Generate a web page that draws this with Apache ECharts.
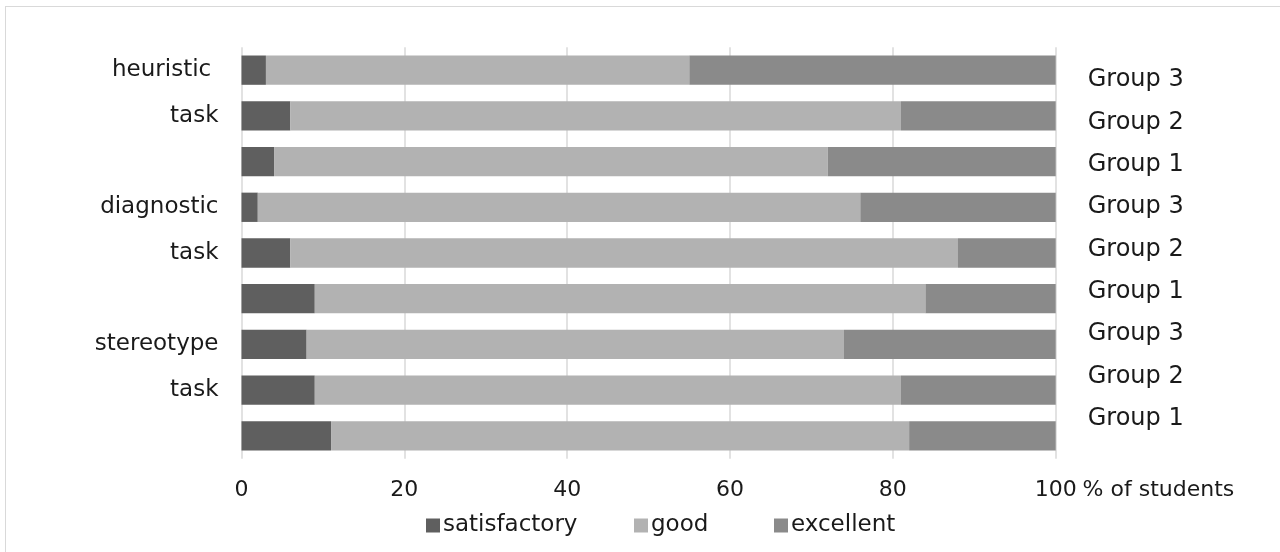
<!DOCTYPE html>
<html>
<head>
<meta charset="utf-8">
<script src="https://cdn.jsdelivr.net/npm/echarts@6/dist/echarts.min.js"></script>
<style>
  html, body { margin: 0; padding: 0; background: #fff; overflow: hidden; }
  #frame { position: absolute; left: 5px; top: 6px; width: 1400px; height: 700px; border: 1px solid #d9d9d9; box-sizing: border-box; }
  #chart { position: absolute; left: 0; top: 0; width: 1280px; height: 552px; }
</style>
</head>
<body>
<div id="frame"></div>
<div id="chart"></div>
<script>
const leftLabels = ["heuristic ", "task", "", "diagnostic", "task", "", "stereotype", "task", ""];
const groupLabels = ["Group 3", "Group 2", "Group 1", "Group 3", "Group 2", "Group 1", "Group 3", "Group 2", "Group 1"];
const seriesNames = ["satisfactory", "good", "excellent"];
const satisfactory = [3, 6, 4, 2, 6, 9, 8, 9, 11];
const good = [52, 75, 68, 74, 82, 75, 66, 72, 71];
const excellent = [45, 19, 28, 24, 12, 16, 26, 19, 18];
const xTicks = [0, 20, 40, 60, 80, 100];
const xUnit = "% of students";

const FONT = "DejaVu Sans";
const colors = ["#5f5f5f", "#b2b2b2", "#8a8a8a"];
const chart = echarts.init(document.getElementById('chart'), null, { renderer: 'canvas' });

function legendFor(name, left) {
  return {
    data: [name], left: left, top: 509, padding: 5,
    icon: 'rect', itemWidth: 14, itemHeight: 14, selectedMode: false,
    textStyle: { fontFamily: FONT, fontSize: 23, color: '#1a1a1a', lineHeight: 22, padding: [0, 0, 0, -2] }
  };
}

chart.setOption({
  animation: false,
  color: colors,
  textStyle: { fontFamily: FONT },
  legend: [legendFor(seriesNames[0], 421), legendFor(seriesNames[1], 629), legendFor(seriesNames[2], 769)],
  grid: [
    { left: 241.5, right: 224.3, top: 47.3, height: 411.4 },
    { left: 241.5, right: 224.3, top: 58.8, height: 381 }
  ],
  xAxis: [
    {
      type: 'value', gridIndex: 0, min: xTicks[0], max: xTicks[xTicks.length - 1], interval: 20,
      axisLine: { show: false }, axisTick: { show: false },
      splitLine: { show: true, lineStyle: { color: '#d9d9d9', width: 1.5 } },
      axisLabel: { fontFamily: FONT, fontSize: 22, color: '#1a1a1a', margin: 21 },
      name: xUnit, nameLocation: 'end', nameGap: 26,
      nameTextStyle: { fontFamily: FONT, fontSize: 22, color: '#1a1a1a', verticalAlign: 'top', lineHeight: 22, padding: [21, 0, 0, 0] }
    },
    { type: 'value', gridIndex: 1, min: 0, max: 100, show: false }
  ],
  yAxis: [
    {
      type: 'category', gridIndex: 0, inverse: true, data: leftLabels,
      axisLine: { show: false }, axisTick: { show: false },
      axisLabel: { fontFamily: FONT, fontSize: 23, color: '#1a1a1a', margin: 23, interval: 0 }
    },
    {
      type: 'category', gridIndex: 1, inverse: true, position: 'right', data: groupLabels,
      axisLine: { show: false }, axisTick: { show: false }, splitLine: { show: false },
      axisLabel: { fontFamily: FONT, fontSize: 24, color: '#1a1a1a', margin: 32, interval: 0 }
    }
  ],
  series: [
    { name: seriesNames[0], type: 'bar', stack: 'total', data: satisfactory, barWidth: 29.3, xAxisIndex: 0, yAxisIndex: 0 },
    { name: seriesNames[1], type: 'bar', stack: 'total', data: good, barWidth: 29.3, xAxisIndex: 0, yAxisIndex: 0 },
    { name: seriesNames[2], type: 'bar', stack: 'total', data: excellent, barWidth: 29.3, xAxisIndex: 0, yAxisIndex: 0 }
  ]
});
</script>
</body>
</html>
